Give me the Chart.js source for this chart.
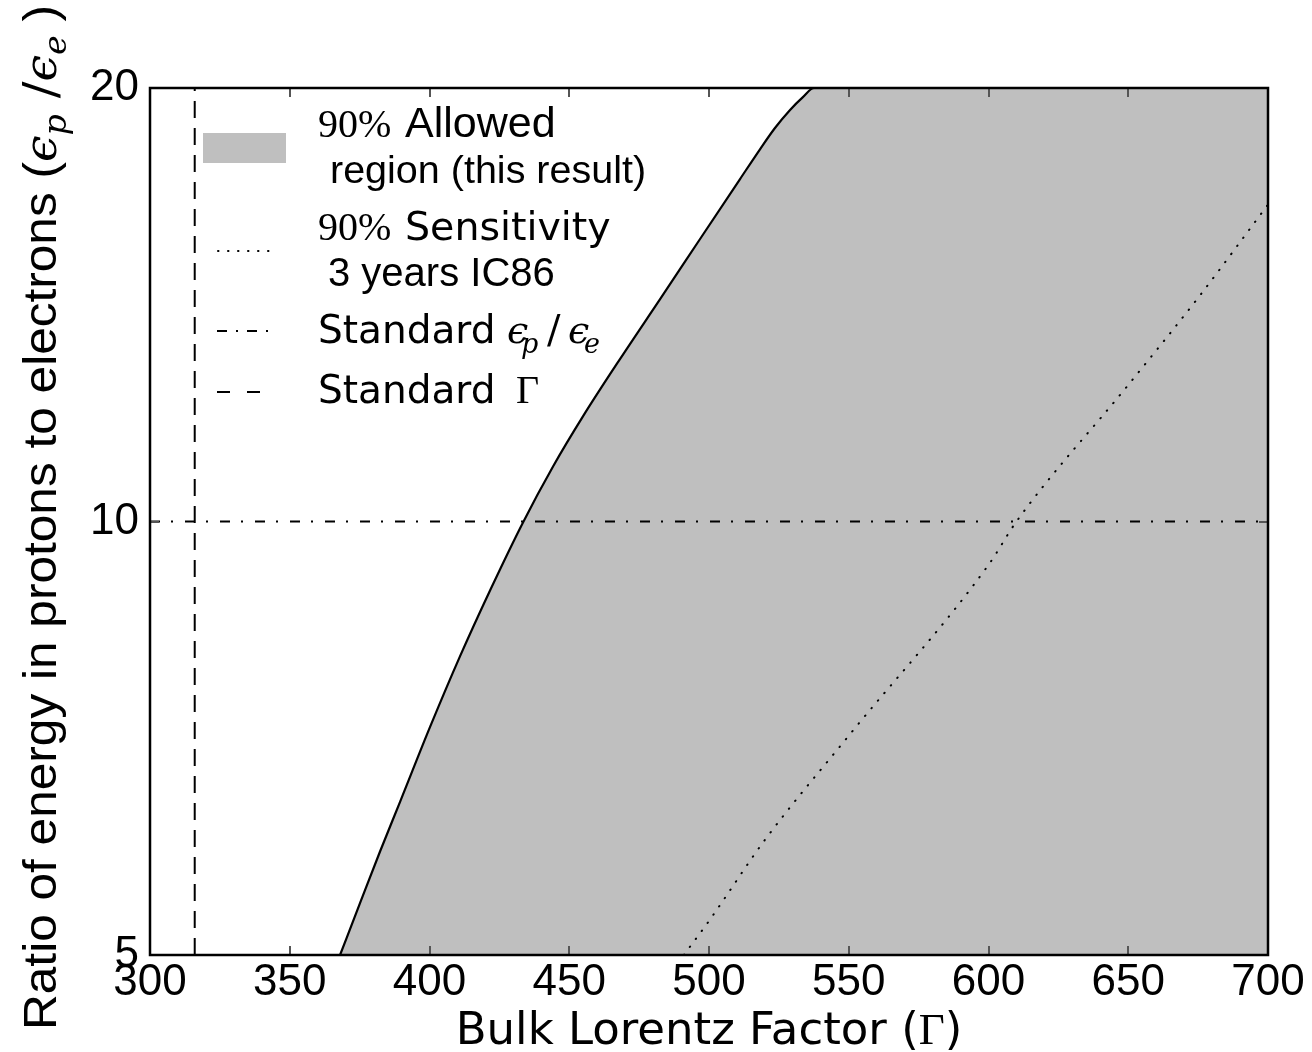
<!DOCTYPE html>
<html><head><meta charset="utf-8">
<script src="https://cdn.jsdelivr.net/npm/chart.js@4.4.0/dist/chart.umd.min.js"></script>
<style>html,body{margin:0;padding:0;background:#fff;} #wrap{width:1312px;height:1052px;}</style>
</head><body><div id="wrap"><canvas id="c" width="1312" height="1052"></canvas></div>
<script>
// ---- data ----
const allowedGamma = [368.0, 375.1, 382.3, 389.5, 400.2, 410.9, 421.7, 433.5, 444.2, 454.9, 468.2, 482.5, 496.8, 511.1, 518.3, 523.6, 529.0, 533.6, 537.6, 700];
const allowedRatio = [5.0, 5.43, 5.90, 6.39, 7.20, 8.06, 8.96, 9.99, 10.92, 11.83, 12.97, 14.27, 15.71, 17.29, 18.14, 18.76, 19.31, 19.71, 20.0, 20.0];
const sensGamma = [491, 500, 520, 550, 600, 610, 650, 675, 700];
const sensRatio = [5, 5.28, 6.01, 7.1, 9.33, 10, 12.44, 14.3, 16.6];
const standardRatio = 10;
const standardGamma = 316;
const xRange = [300, 700];
const yRange = [5, 20];
const xTickValues = [300, 350, 400, 450, 500, 550, 600, 650, 700];
const yTickValues = [5, 10, 20];

const toPts = (xs, ys) => xs.map((x, i) => ({x: x, y: ys[i]}));

const SANS = '"Liberation Sans", Arial, sans-serif';
const DSANS = '"DejaVu Sans", sans-serif';
const SERIF = '"Liberation Serif", "DejaVu Serif", serif';
const MSERIF = '"DejaVu Serif", "Liberation Serif", serif';

function drawRuns(ctx, runs) {
  for (const r of runs) {
    ctx.font = r.font;
    ctx.fillText(r.t, r.x, r.y);
  }
}

const framePlugin = {
  id: 'frame',
  afterDatasetsDraw(chart) {
    const ctx = chart.ctx, a = chart.chartArea;
    const xs = chart.scales.x, ys = chart.scales.y;
    ctx.save();
    ctx.strokeStyle = '#555';
    ctx.lineWidth = 2;
    const L = 9;
    ctx.beginPath();
    for (const v of xTickValues) {
      const px = Math.round(xs.getPixelForValue(v));
      ctx.moveTo(px, a.bottom); ctx.lineTo(px, a.bottom - L);
      ctx.moveTo(px, a.top); ctx.lineTo(px, a.top + L);
    }
    for (const v of yTickValues) {
      const py = Math.round(ys.getPixelForValue(v));
      ctx.moveTo(a.left, py); ctx.lineTo(a.left + L, py);
      ctx.moveTo(a.right, py); ctx.lineTo(a.right - L, py);
    }
    ctx.stroke();
    ctx.strokeStyle = '#000';
    ctx.lineWidth = 2.5;
    ctx.strokeRect(a.left, a.top, a.right - a.left, a.bottom - a.top);
    ctx.restore();
  }
};

const legendPlugin = {
  id: 'customLegend',
  afterDraw(chart) {
    const ctx = chart.ctx;
    ctx.save();
    ctx.fillStyle = '#bfbfbf';
    ctx.fillRect(203, 133, 83, 30);
    ctx.strokeStyle = '#000';
    ctx.lineWidth = 2;
    // dotted
    ctx.lineCap = 'round';
    ctx.setLineDash([0.5, 9.5]);
    ctx.beginPath(); ctx.moveTo(218, 251); ctx.lineTo(270, 251); ctx.stroke();
    ctx.lineCap = 'butt';
    ctx.setLineDash([10, 9, 2, 9]);
    ctx.beginPath(); ctx.moveTo(217, 331); ctx.lineTo(275, 331); ctx.stroke();
    ctx.setLineDash([13, 17]);
    ctx.beginPath(); ctx.moveTo(217, 392); ctx.lineTo(262, 392); ctx.stroke();
    ctx.setLineDash([]);
    ctx.fillStyle = '#000';
    ctx.textBaseline = 'alphabetic';
    ctx.textAlign = 'left';
    drawRuns(ctx, [
      {t: '90%', font: '40px ' + SERIF, x: 318, y: 137},
      {t: 'Allowed', font: '43px ' + SANS, x: 405, y: 137},
      {t: 'region (this result)', font: '39.5px ' + SANS, x: 330, y: 183},
      {t: '90%', font: '40px ' + SERIF, x: 318, y: 240},
      {t: 'Sensitivity', font: '39.5px ' + DSANS, x: 405, y: 240},
      {t: '3 years IC86', font: '40px ' + SANS, x: 328, y: 286},
      {t: 'Standard', font: '39px ' + DSANS, x: 318, y: 343},
      {t: '\u03F5', font: 'italic 38px ' + MSERIF, x: 507, y: 343},
      {t: 'p', font: 'italic 27px ' + MSERIF, x: 521, y: 353},
      {t: '/', font: '40px ' + MSERIF, x: 547, y: 343},
      {t: '\u03F5', font: 'italic 38px ' + MSERIF, x: 568, y: 343},
      {t: 'e', font: 'italic 27px ' + MSERIF, x: 584, y: 353},
      {t: 'Standard', font: '39px ' + DSANS, x: 318, y: 403},
      {t: '\u0393', font: '40px ' + SERIF, x: 516, y: 403}
    ]);
    // x title
    const a = chart.chartArea;
    const cx = (a.left + a.right) / 2;
    const XF = 45;
    ctx.font = XF + 'px ' + DSANS;
    const p1 = 'Bulk Lorentz Factor (';
    const w1 = ctx.measureText(p1).width;
    ctx.font = XF + 'px ' + SERIF;
    const wG = ctx.measureText('\u0393').width;
    ctx.font = XF + 'px ' + DSANS;
    const wP = ctx.measureText(')').width;
    let x0 = cx - (w1 + wG + wP) / 2;
    const yb = 1044;
    ctx.fillText(p1, x0, yb);
    ctx.font = XF + 'px ' + SERIF; ctx.fillText('\u0393', x0 + w1, yb);
    ctx.font = XF + 'px ' + DSANS; ctx.fillText(')', x0 + w1 + wG, yb);
    // y title (rotated)
    const yStart = 1030, yEnd = 5;
    ctx.translate(56, (yStart + yEnd) / 2);
    ctx.rotate(-Math.PI / 2);
    const yruns = [
      {t: 'Ratio of energy in protons to electrons (', font: '46px ' + SANS, dy: 0},
      {t: '\u03F5', font: 'italic 44px ' + MSERIF, dy: 0},
      {t: 'p', font: 'italic 31px ' + MSERIF, dy: 10},
      {t: ' /', font: '46px ' + MSERIF, dy: 0},
      {t: '\u03F5', font: 'italic 44px ' + MSERIF, dy: 0},
      {t: 'e', font: 'italic 31px ' + MSERIF, dy: 10},
      {t: ' )', font: '46px ' + SANS, dy: 0}
    ];
    let tot = 0;
    for (const r of yruns) { ctx.font = r.font; r.w = ctx.measureText(r.t).width; tot += r.w; }
    const s = (yStart - yEnd) / tot;
    ctx.scale(s, 1);
    let xx = -tot / 2;
    for (const r of yruns) { ctx.font = r.font; ctx.fillText(r.t, xx, r.dy); xx += r.w; }
    ctx.restore();
  }
};

new Chart(document.getElementById('c'), {
  type: 'line',
  data: {
    datasets: [
      {
        label: '90% Allowed region (this result)',
        data: toPts(allowedGamma, allowedRatio),
        borderColor: '#000', borderWidth: 2.2,
        backgroundColor: '#bfbfbf', fill: 'start',
        pointRadius: 0, cubicInterpolationMode: 'monotone', order: 4
      },
      {
        label: '90% Sensitivity 3 years IC86',
        data: toPts(sensGamma, sensRatio),
        borderColor: '#000', borderWidth: 2, borderDash: [0.5, 9.5], borderCapStyle: 'round',
        fill: false, pointRadius: 0, cubicInterpolationMode: 'monotone', order: 3
      },
      {
        label: 'Standard ep/ee',
        data: [{x: xRange[0], y: standardRatio}, {x: xRange[1], y: standardRatio}],
        borderColor: '#000', borderWidth: 2, borderDash: [10, 11, 2, 12],
        fill: false, pointRadius: 0, order: 2
      },
      {
        label: 'Standard Gamma',
        data: [{x: standardGamma, y: yRange[0]}, {x: standardGamma, y: yRange[1]}],
        borderColor: '#000', borderWidth: 2, borderDash: [17, 10],
        fill: false, pointRadius: 0, order: 1
      }
    ]
  },
  options: {
    responsive: false,
    animation: false,
    layout: {padding: {left: 0, top: 88, right: 44, bottom: 0}},
    plugins: {legend: {display: false}, tooltip: {enabled: false}, title: {display: false}},
    scales: {
      x: {
        type: 'linear', min: xRange[0], max: xRange[1],
        afterBuildTicks: s => { s.ticks = xTickValues.map(v => ({value: v})); },
        ticks: {font: {family: SANS, size: 44}, color: '#000', padding: 1, maxRotation: 0, autoSkip: false,
                callback: v => String(v)},
        grid: {display: false, drawTicks: false},
        border: {display: false},
        afterFit: s => { s.height = 97; }
      },
      y: {
        type: 'logarithmic', min: yRange[0], max: yRange[1],
        afterBuildTicks: s => { s.ticks = yTickValues.map(v => ({value: v})); },
        ticks: {font: {family: SANS, size: 44}, color: '#000', padding: 11, autoSkip: false,
                callback: v => String(v)},
        grid: {display: false, drawTicks: false},
        border: {display: false},
        afterFit: s => { s.width = 150; }
      }
    }
  },
  plugins: [framePlugin, legendPlugin]
});
</script>
</body></html>
